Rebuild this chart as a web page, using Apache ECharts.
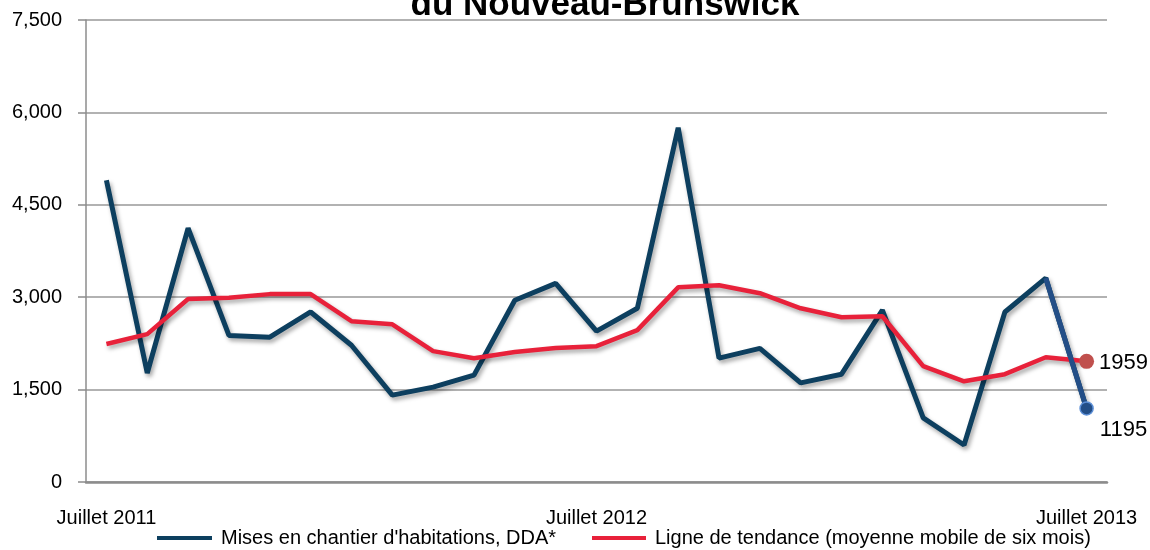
<!DOCTYPE html>
<html><head><meta charset="utf-8">
<script src="https://cdn.jsdelivr.net/npm/echarts@6/dist/echarts.min.js"></script>
<style>html,body{margin:0;padding:0;background:#fff}#c{width:1150px;height:550px}</style>
</head><body><div id="c"></div>
<script>
const months = ['Juillet 2011','Août 2011','Septembre 2011','Octobre 2011','Novembre 2011','Décembre 2011',
 'Janvier 2012','Février 2012','Mars 2012','Avril 2012','Mai 2012','Juin 2012','Juillet 2012',
 'Août 2012','Septembre 2012','Octobre 2012','Novembre 2012','Décembre 2012',
 'Janvier 2013','Février 2013','Mars 2013','Avril 2013','Mai 2013','Juin 2013','Juillet 2013'];
const shownLabels = ['Juillet 2011','Juillet 2012','Juillet 2013'];
const yTicks = [0,1500,3000,4500,6000,7500];
const starts = [4900,1770,4120,2380,2350,2760,2220,1410,1540,1735,2950,3225,2450,2820,5750,2010,2170,1610,1750,2790,1040,600,2760,3310,1195];
const trend = [2240,2400,2970,2990,3050,3050,2610,2560,2125,2010,2110,2175,2205,2465,3160,3195,3065,2820,2675,2690,1880,1635,1750,2025,1959];
const seriesNames = ["Mises en chantier d'habitations, DDA*", 'Ligne de tendance (moyenne mobile de six mois)'];
const title = 'du Nouveau-Brunswick';

const n = months.length;
const lastSeg = starts.map((v,i)=> i>=n-2 ? v : null);
const chart = echarts.init(document.getElementById('c'));
const shadow = {shadowColor:'rgba(0,0,0,0.35)', shadowBlur:4, shadowOffsetX:2, shadowOffsetY:3};
const legTxt = {fontFamily:'Liberation Sans', fontSize:20, color:'#000', padding:[0,0,0,4]};
chart.setOption({
  animation:false,
  title:{text:title, left:600, textAlign:'center', top:-17, textStyle:{fontFamily:'Liberation Sans', fontWeight:'bold', fontSize:35, color:'#000'}},
  grid:{left:86, right:43, top:20, bottom:68},
  legend:[
    {top:528, left:157, padding:0, itemWidth:55, itemHeight:4, icon:'rect', textStyle:legTxt,
      data:[{name:seriesNames[0], itemStyle:{color:'#0d3f5f'}}]},
    {top:528, left:592, padding:0, itemWidth:54, itemHeight:4, icon:'rect', textStyle:legTxt,
      data:[{name:seriesNames[1], itemStyle:{color:'#e8213a'}}]}
  ],
  xAxis:{type:'category', data:months, boundaryGap:true,
    axisLine:{lineStyle:{color:'#8c8c8c', width:2.5}}, axisTick:{show:false},
    axisLabel:{interval:0, margin:26, fontFamily:'Liberation Sans', fontSize:20, color:'#000',
      formatter:v=> shownLabels.includes(v) ? v : ''}},
  yAxis:{type:'value', min:0, max:7500, interval:1500,
    axisLine:{show:true, lineStyle:{color:'#8c8c8c', width:1.5}},
    axisTick:{show:true, length:8, lineStyle:{color:'#8c8c8c', width:1.5}},
    splitLine:{lineStyle:{color:'#999', width:1.5}},
    axisLabel:{margin:24, fontFamily:'Liberation Sans', fontSize:20, color:'#000',
      formatter:v=> v.toLocaleString('en-US')}},
  series:[
    {name:seriesNames[0], type:'line', data:starts, symbol:'none', z:3,
      lineStyle:{color:'#0d3f5f', width:5, ...shadow}, itemStyle:{color:'#0d3f5f'}},
    {name:seriesNames[1], type:'line', data:trend, z:4,
      symbol:(v,p)=> p.dataIndex===n-1 ? 'circle':'none', symbolSize:15,
      lineStyle:{color:'#e8213a', width:4.5, ...shadow}, itemStyle:{color:'#c0504d'},
      label:{show:true, position:'right', distance:5, offset:[0,2], fontFamily:'Liberation Sans', fontSize:22, color:'#000',
        formatter:p=> p.dataIndex===n-1 ? String(p.value) : ''}},
    {name:'fin', type:'line', data:lastSeg, z:5, legendHoverLink:false,
      symbol:(v,p)=> p.dataIndex===n-1 ? 'circle':'none', symbolSize:13,
      lineStyle:{color:'#234e87', width:5}, itemStyle:{color:'#234e87', borderColor:'#5b8ed6', borderWidth:1.5},
      label:{show:true, position:'right', distance:6, offset:[0,22], fontFamily:'Liberation Sans', fontSize:22, color:'#000',
        formatter:p=> p.dataIndex===n-1 ? String(p.value) : ''}}
  ]
});
</script></body></html>
